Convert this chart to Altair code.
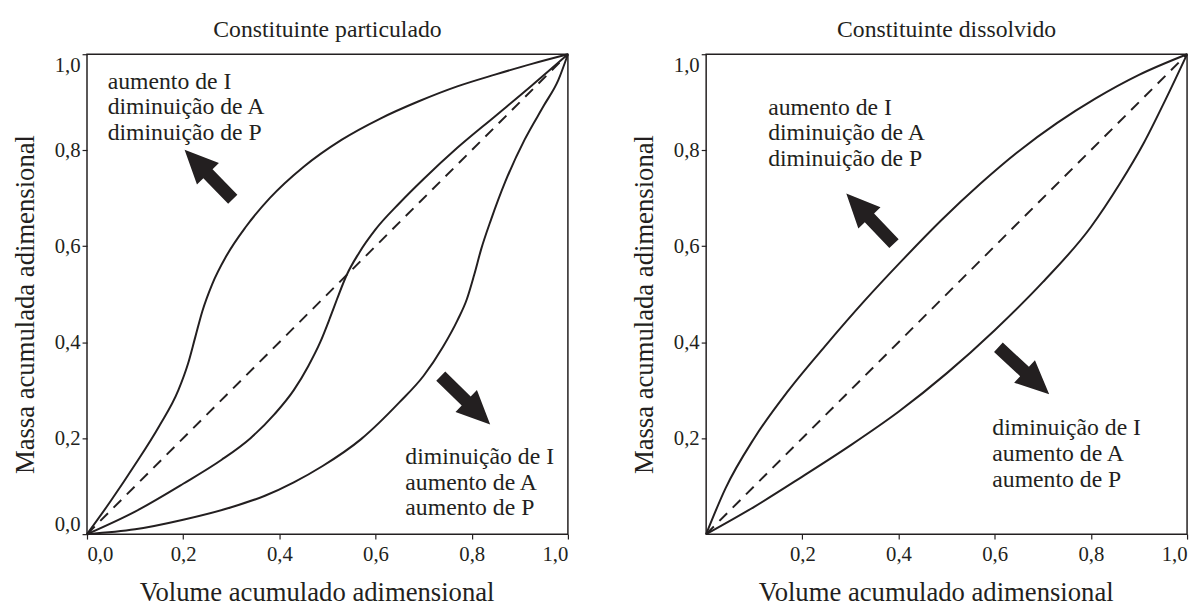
import math
import altair as alt
import pandas as pd

FONT = "Liberation Serif"
INK = "#231f20"

# ---------------- Left panel: Constituinte particulado ----------------
p_top_x = [0, 0.05, 0.10, 0.15, 0.19, 0.21, 0.225, 0.24, 0.26, 0.29, 0.33, 0.38, 0.45, 0.53, 0.61, 0.69, 0.77, 0.85, 0.925, 1.0]
p_top_y = [0, 0.07, 0.145, 0.225, 0.30, 0.355, 0.41, 0.465, 0.52, 0.58, 0.64, 0.70, 0.765, 0.822, 0.866, 0.902, 0.933, 0.958, 0.98, 1.0]

p_mid_x = [0, 0.10, 0.20, 0.28, 0.34, 0.39, 0.43, 0.46, 0.485, 0.505, 0.52, 0.54, 0.565, 0.60, 0.65, 0.70, 0.77, 0.85, 0.925, 1.0]
p_mid_y = [0, 0.047, 0.105, 0.155, 0.20, 0.25, 0.30, 0.35, 0.40, 0.45, 0.49, 0.54, 0.585, 0.635, 0.69, 0.74, 0.805, 0.872, 0.935, 1.0]

p_low_x = [0, 0.10, 0.20, 0.30, 0.37, 0.43, 0.49, 0.57, 0.65, 0.70, 0.74, 0.77, 0.79, 0.805, 0.82, 0.84, 0.87, 0.91, 0.95, 0.98, 1.0]
p_low_y = [0, 0.01, 0.03, 0.056, 0.08, 0.108, 0.142, 0.198, 0.275, 0.33, 0.39, 0.445, 0.49, 0.54, 0.595, 0.655, 0.735, 0.822, 0.893, 0.946, 1.0]

# ---------------- Right panel: Constituinte dissolvido ----------------
d_top_x = [0, 0.04, 0.10, 0.17, 0.25, 0.33, 0.41, 0.49, 0.57, 0.65, 0.73, 0.81, 0.90, 1.0]
d_top_y = [0, 0.095, 0.20, 0.298, 0.395, 0.487, 0.573, 0.655, 0.73, 0.798, 0.857, 0.908, 0.957, 1.0]

d_low_x = [0, 0.10, 0.20, 0.30, 0.40, 0.50, 0.60, 0.70, 0.80, 0.86, 0.91, 0.955, 1.0]
d_low_y = [0, 0.057, 0.12, 0.185, 0.255, 0.335, 0.425, 0.525, 0.64, 0.73, 0.815, 0.905, 1.0]

diag_x = [0, 1.0]
diag_y = [0, 1.0]

ticks_left = [0.0, 0.2, 0.4, 0.6, 0.8, 1.0]
ticks_right = [0.2, 0.4, 0.6, 0.8, 1.0]

# arrows: tail (x, y) -> tip (x, y), in data units
p_arrow_tail_x = [0.302, 0.736]
p_arrow_tail_y = [0.699, 0.329]
p_arrow_tip_x = [0.204, 0.838]
p_arrow_tip_y = [0.800, 0.229]

d_arrow_tail_x = [0.390, 0.607]
d_arrow_tail_y = [0.606, 0.390]
d_arrow_tip_x = [0.292, 0.714]
d_arrow_tip_y = [0.709, 0.291]

up_text = "aumento de I\ndiminuição de A\ndiminuição de P"
down_text = "diminuição de I\naumento de A\naumento de P"
p_text_x = [0.043, 0.662]
p_text_y = [0.928, 0.146]
d_text_x = [0.129, 0.595]
d_text_y = [0.874, 0.206]
texts = [up_text, down_text]

titles = ["Constituinte particulado", "Constituinte dissolvido"]
x_title = "Volume acumulado adimensional"
y_title = "Massa acumulada adimensional"

W, H = 487, 486

ARROW = "M0,-1L0.443,-0.03L0.186,-0.03L0.186,1L-0.186,1L-0.186,-0.03L-0.443,-0.03Z"


def curves_df(curves):
    rows = []
    for cid, (xs, ys) in enumerate(curves):
        for i, (x, y) in enumerate(zip(xs, ys)):
            rows.append({"x": x, "y": y, "curve": cid, "order": i})
    return pd.DataFrame(rows)


def arrows_df(tx, ty, hx, hy):
    rows = []
    for a, b, c, d in zip(tx, ty, hx, hy):
        dx = (c - a) * W
        dy = -(d - b) * H
        ang = math.degrees(math.atan2(dx, -dy)) % 360
        rows.append({"cx": (a + c) / 2, "cy": (b + d) / 2, "ang": ang})
    return pd.DataFrame(rows)


LABEL_EXPR = "replace(format(datum.value, '.1f'), '.', ',')"


def panel(curves, arrows, tx, ty, title, ticks):
    xs = alt.Scale(domain=[0, 1], nice=False, zero=False)
    ys = alt.Scale(domain=[0, 1], nice=False, zero=False)
    xaxis = alt.Axis(
        values=ticks, labelExpr=LABEL_EXPR, labelFlush=True, labelFont=FONT,
        labelFontSize=21, labelColor=INK, labelPadding=5, tickSize=5, tickColor=INK,
        tickWidth=1.2, domain=False, grid=False, title=x_title, titleFont=FONT,
        titleFontSize=27, titleFontWeight="normal", titleColor=INK,
        titleX=W / 2 - 11, titleY=67, titleBaseline="alphabetic",
    )
    yaxis = alt.Axis(
        values=ticks, labelExpr=LABEL_EXPR, labelFlush=True, labelFont=FONT,
        labelFontSize=21, labelColor=INK, labelPadding=2, tickSize=5, tickColor=INK,
        tickWidth=1.2, domain=False, grid=False, title=y_title, titleFont=FONT,
        titleFontSize=27, titleFontWeight="normal", titleColor=INK,
        titleX=-62, titleY=253, titleAngle=270, titleAlign="center",
        titleBaseline="middle",
    )
    cdf = curves_df(curves)
    lines = alt.Chart(cdf).mark_line(color=INK, strokeWidth=2, interpolate="monotone").encode(
        x=alt.X("x:Q", scale=xs, axis=xaxis),
        y=alt.Y("y:Q", scale=ys, axis=yaxis),
        detail="curve:N",
        order="order:Q",
    )
    diag = alt.Chart(pd.DataFrame({"x": diag_x, "y": diag_y})).mark_line(
        color=INK, strokeWidth=2, strokeDash=[11, 8]
    ).encode(x=alt.X("x:Q", scale=xs), y=alt.Y("y:Q", scale=ys))
    arr = alt.Chart(arrows).mark_point(
        shape=ARROW, filled=True, size=4900, color=INK, opacity=1, strokeWidth=0
    ).encode(
        x=alt.X("cx:Q", scale=xs), y=alt.Y("cy:Q", scale=ys),
        angle=alt.Angle("ang:Q", scale=None),
    )
    tdf = pd.DataFrame({"x": tx, "y": ty, "t": texts})
    txt = alt.Chart(tdf).mark_text(
        align="left", baseline="alphabetic", lineBreak="\n", lineHeight=26,
        font=FONT, fontSize=24, color=INK,
    ).encode(x=alt.X("x:Q", scale=xs), y=alt.Y("y:Q", scale=ys), text="t:N")
    return alt.layer(diag, lines, arr, txt).properties(
        width=W, height=H,
        title=alt.TitleParams(
            title, font=FONT, fontSize=24, fontWeight="normal", color=INK,
            baseline="alphabetic", offset=-11, anchor="middle",
        ),
    )


left = panel(
    [(p_top_x, p_top_y), (p_mid_x, p_mid_y), (p_low_x, p_low_y)],
    arrows_df(p_arrow_tail_x, p_arrow_tail_y, p_arrow_tip_x, p_arrow_tip_y),
    p_text_x, p_text_y, titles[0], ticks_left,
)
right = panel(
    [(d_top_x, d_top_y), (d_low_x, d_low_y)],
    arrows_df(d_arrow_tail_x, d_arrow_tail_y, d_arrow_tip_x, d_arrow_tip_y),
    d_text_x, d_text_y, titles[1], ticks_right,
)

chart = alt.hconcat(left, right, spacing=58).properties(
    padding={"left": 3, "top": 6, "right": 0, "bottom": 0},
    background="white",
).configure_view(stroke=INK, strokeWidth=1.5)

chart.save("out.html", embed_options={"renderer": "svg", "actions": False})
